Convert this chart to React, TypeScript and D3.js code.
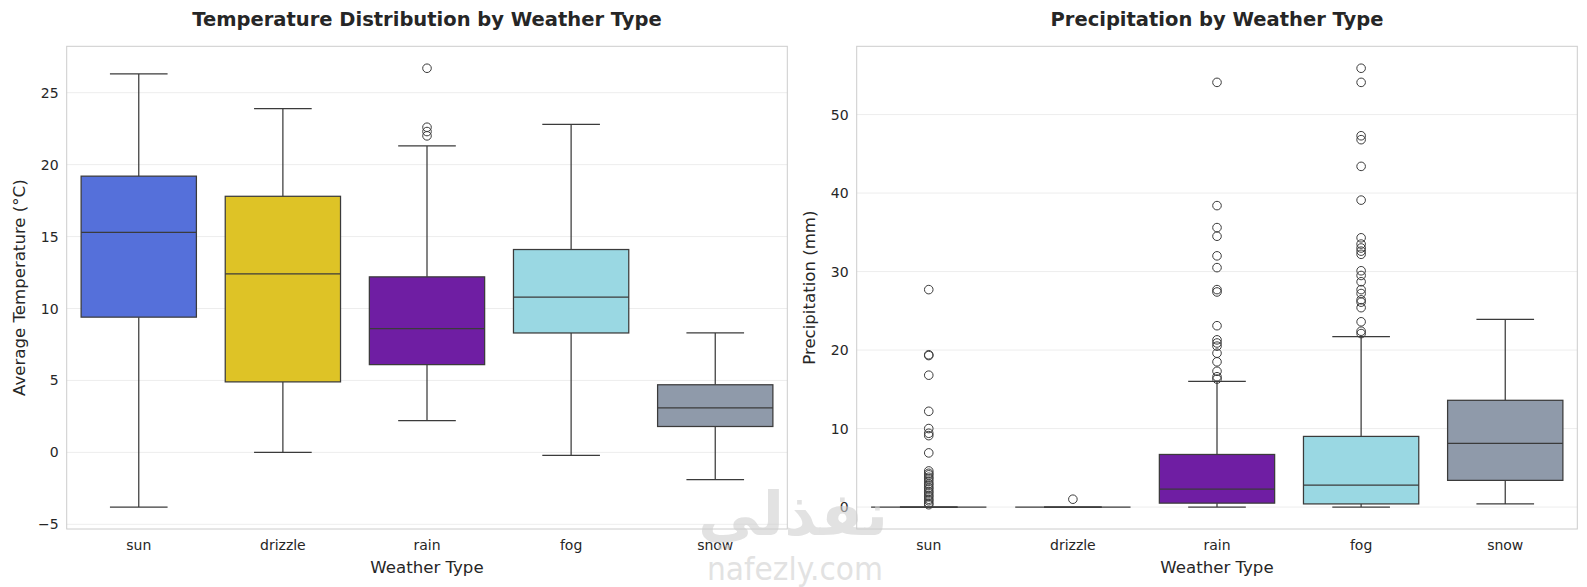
import { useEffect } from 'react';
import * as d3 from 'd3';

const categories = ['sun', 'drizzle', 'rain', 'fog', 'snow'];
const boxColors = ['#5570DA', '#DEC326', '#6F1EA3', '#9AD8E3', '#8F9AAA'];

// temperature (°C) box stats per weather type
const tempLow = [-3.8, 0.0, 2.2, -0.2, -1.9];
const tempQ1 = [9.4, 4.9, 6.1, 8.3, 1.8];
const tempMedian = [15.3, 12.4, 8.6, 10.8, 3.1];
const tempQ3 = [19.2, 17.8, 12.2, 14.1, 4.7];
const tempHigh = [26.3, 23.9, 21.3, 22.8, 8.3];
const tempOutliers = [[], [], [22.0, 22.3, 22.6, 26.7], [], []];

// precipitation (mm)
const precipLow = [0, 0, 0, 0, 0.4];
const precipQ1 = [0, 0, 0.5, 0.4, 3.4];
const precipMedian = [0, 0, 2.3, 2.8, 8.1];
const precipQ3 = [0, 0, 6.7, 9.0, 13.6];
const precipHigh = [0, 0, 16.0, 21.7, 23.9];
const precipOutliers = [
  [27.7, 19.3, 19.4, 16.8, 12.2, 10.0, 9.4, 9.1, 6.9, 4.6, 4.3, 4.1, 3.8, 3.6, 3.3, 3.0, 2.8, 2.5, 2.3, 2.0, 1.8, 1.5, 1.3, 1.0, 0.8, 0.5, 0.3],
  [1.0],
  [54.1, 38.4, 35.6, 34.5, 32.0, 30.5, 27.7, 27.4, 23.1, 21.3, 20.9, 20.5, 19.6, 18.5, 17.3, 16.6, 16.3],
  [55.9, 54.1, 47.3, 46.8, 43.4, 39.1, 34.3, 33.5, 33.0, 32.6, 32.2, 30.1, 29.5, 28.7, 27.7, 27.2, 26.4, 26.1, 25.4, 23.6, 22.4, 22.1],
  [],
];

const font = 'DejaVu Sans, sans-serif';
const edge = '#3b3b3b';
const top = 46.3;
const bottom = 529;

type PanelProps = {
  x0: number;
  x1: number;
  title: string;
  ylabel: string;
  low: number[];
  q1: number[];
  median: number[];
  q3: number[];
  high: number[];
  outliers: number[][];
  tickCount: number;
};

const Panel = ({ x0, x1, title, ylabel, low, q1, median, q3, high, outliers, tickCount }: PanelProps) => {
  const all = [...low, ...high, ...outliers.flat()];
  const lo = d3.min(all) as number;
  const hi = d3.max(all) as number;
  const pad = (hi - lo) * 0.05;
  const y = d3.scaleLinear().domain([lo - pad, hi + pad]).range([bottom, top]);
  const x = d3.scaleBand().domain(categories).range([x0, x1]);
  const bw = x.bandwidth() * 0.8;
  const cw = bw / 2;
  const ticks = y.ticks(tickCount);
  const fmt = y.tickFormat(tickCount);

  return (
    <g>
      {ticks.map((t) => (
        <g key={t}>
          <line x1={x0} x2={x1} y1={y(t)} y2={y(t)} stroke="#ebebeb" strokeWidth={0.9} />
          <text x={x0 - 8} y={y(t)} dy="0.36em" textAnchor="end" fontSize={14} fill="#262626" fontFamily={font}>
            {fmt(t)}
          </text>
        </g>
      ))}
      <rect x={x0} y={top} width={x1 - x0} height={bottom - top} fill="none" stroke="#cccccc" strokeWidth={1} />
      {categories.map((c, i) => {
        const cx = (x(c) as number) + x.bandwidth() / 2;
        return (
          <g key={c}>
            <line x1={cx} x2={cx} y1={y(q3[i])} y2={y(high[i])} stroke={edge} strokeWidth={1.25} />
            <line x1={cx} x2={cx} y1={y(q1[i])} y2={y(low[i])} stroke={edge} strokeWidth={1.25} />
            <line x1={cx - cw / 2} x2={cx + cw / 2} y1={y(high[i])} y2={y(high[i])} stroke={edge} strokeWidth={1.25} />
            <line x1={cx - cw / 2} x2={cx + cw / 2} y1={y(low[i])} y2={y(low[i])} stroke={edge} strokeWidth={1.25} />
            <rect
              x={cx - bw / 2}
              y={y(q3[i])}
              width={bw}
              height={Math.max(0, y(q1[i]) - y(q3[i]))}
              fill={boxColors[i]}
              stroke={edge}
              strokeWidth={1.25}
            />
            <line x1={cx - bw / 2} x2={cx + bw / 2} y1={y(median[i])} y2={y(median[i])} stroke={edge} strokeWidth={1.25} />
            {outliers[i].map((v, j) => (
              <circle key={j} cx={cx} cy={y(v)} r={4.3} fill="none" stroke={edge} strokeWidth={1} />
            ))}
            <text x={cx} y={550} textAnchor="middle" fontSize={14} fill="#262626" fontFamily={font}>
              {c}
            </text>
          </g>
        );
      })}
      <text x={(x0 + x1) / 2} y={573} textAnchor="middle" fontSize={16.6} fill="#262626" fontFamily={font}>
        Weather Type
      </text>
      <text
        transform={`translate(${x0 - 48},${(top + bottom) / 2}) rotate(-90)`}
        dy="0.36em"
        textAnchor="middle"
        fontSize={16.6}
        fill="#262626"
        fontFamily={font}
      >
        {ylabel}
      </text>
      <text x={(x0 + x1) / 2} y={25.5} textAnchor="middle" fontSize={19.5} fontWeight="bold" fill="#262626" fontFamily={font}>
        {title}
      </text>
    </g>
  );
};

const App = () => {
  useEffect(() => {
    document.body.style.margin = '0';
  }, []);

  return (
    <svg width={1587} height={587} style={{ display: 'block', background: '#fff' }}>
      <rect width={1587} height={587} fill="#fff" />
      <Panel
        x0={66.7}
        x1={787.3}
        title="Temperature Distribution by Weather Type"
        ylabel="Average Temperature (°C)"
        low={tempLow}
        q1={tempQ1}
        median={tempMedian}
        q3={tempQ3}
        high={tempHigh}
        outliers={tempOutliers}
        tickCount={7}
      />
      <Panel
        x0={856.7}
        x1={1577.3}
        title="Precipitation by Weather Type"
        ylabel="Precipitation (mm)"
        low={precipLow}
        q1={precipQ1}
        median={precipMedian}
        q3={precipQ3}
        high={precipHigh}
        outliers={precipOutliers}
        tickCount={6}
      />
      {/* watermark */}
      <g fill="#cfcfcf" opacity={0.6} fontFamily={font} textAnchor="middle">
        <text x={793} y={535} fontSize={60} fontWeight="bold" textLength={190} lengthAdjust="spacingAndGlyphs">
          نفذلي
        </text>
        <text x={795} y={580} fontSize={32} textLength={176} lengthAdjust="spacingAndGlyphs">
          nafezly.com
        </text>
      </g>
    </svg>
  );
};

export default App;
